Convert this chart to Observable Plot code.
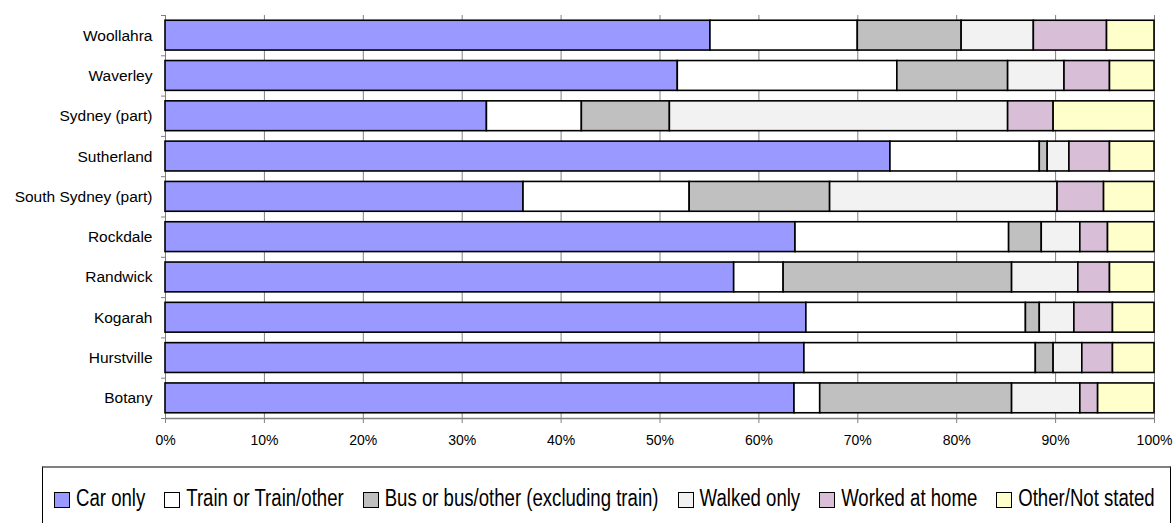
<!DOCTYPE html>
<html><head><meta charset="utf-8">
<script src="https://cdn.jsdelivr.net/npm/d3@7"></script>
<script src="https://cdn.jsdelivr.net/npm/@observablehq/plot@0.6"></script>
<style>
html,body{margin:0;padding:0;background:#fff}
body{width:1174px;height:523px;overflow:hidden;position:relative;font-family:"Liberation Sans",Arial,sans-serif}
#chart{position:absolute;left:0;top:0}
#legend{position:absolute;left:42px;top:466px;width:1129px;height:90px;border:1px solid #000;border-top:2px solid #808080;box-sizing:border-box;
  display:flex;align-items:flex-start;padding:19px 0 0 11px;gap:19px;font-family:"Liberation Sans",Arial,sans-serif;font-size:18.6px;line-height:22px;color:#000;white-space:nowrap}
#legend .item{display:flex;align-items:center;gap:6px}
#legend .sw{width:16px;height:16px;border:1.5px solid #000;box-sizing:border-box;margin-top:4px}
#legend .txt{display:inline-block;transform:scaleY(1.3);transform-origin:50% 50%}
</style>
</head><body>
<div id="chart"></div>
<div id="legend"></div>
<script>
const categories = ["Woollahra","Waverley","Sydney (part)","Sutherland","South Sydney (part)","Rockdale","Randwick","Kogarah","Hurstville","Botany"];
const modes = ["Car only","Train or Train/other","Bus or bus/other (excluding train)","Walked only","Worked at home","Other/Not stated"];
const colors = ["#9999FF","#FFFFFF","#C0C0C0","#F2F2F2","#D8BED6","#FFFFCC"];
const carOnly = [55.1,51.8,32.5,73.3,36.2,63.7,57.5,64.8,64.6,63.6];
const train   = [14.9,22.2, 9.6,15.1,16.8,21.6, 5.0,22.2,23.4, 2.6];
const bus     = [10.5,11.2, 8.9, 0.8,14.2, 3.3,23.1, 1.4, 1.8,19.4];
const walked  = [ 7.3, 5.7,34.2, 2.2,23.0, 3.9, 6.7, 3.5, 2.9, 6.9];
const home    = [ 7.4, 4.6, 4.6, 4.1, 4.7, 2.8, 3.2, 3.9, 3.1, 1.8];
const other   = [ 4.8, 4.5,10.2, 4.5, 5.1, 4.7, 4.5, 4.2, 4.2, 5.7];
const xTicks = [0,10,20,30,40,50,60,70,80,90,100];

const series = [carOnly, train, bus, walked, home, other];
const rows = [];
categories.forEach((cat, i) => {
  const vals = series.map(s => s[i]);
  const ends = Array.from(d3.cumsum(vals));
  modes.forEach((m, k) => {
    rows.push({i, cat, mode: m, x1: k ? ends[k-1] : 0, x2: ends[k]});
  });
});

const half = 0.37;
const chart = Plot.plot({
  width: 1174,
  height: 465,
  marginLeft: 165,
  marginRight: 20,
  marginTop: 15,
  marginBottom: 47,
  style: {fontFamily: '"Liberation Sans", Arial, sans-serif', fontSize: "14px", background: "white", color: "#000"},
  x: {domain: [0, 100]},
  y: {domain: [-0.5, categories.length - 0.5], reverse: true},
  color: {domain: modes, range: colors},
  marks: [
    Plot.ruleX(xTicks, {stroke: "#808080", strokeWidth: 1}),
    Plot.rectX(rows, {x1: "x1", x2: "x2", y1: d => d.i - half, y2: d => d.i + half, fill: "mode", stroke: "#000", strokeWidth: 1.6}),
    Plot.ruleY([categories.length - 0.5], {stroke: "#808080", strokeWidth: 1.5}),
    Plot.axisX({ticks: xTicks, tickFormat: d => d + "%", tickSize: 5, tickPadding: 12, stroke: "#808080", fill: "#000", fontSize: 14, label: null}),
    Plot.axisY({ticks: d3.range(-0.5, categories.length, 1), tickFormat: () => "", tickSize: 4, stroke: "#808080", label: null}),
    Plot.axisY({ticks: d3.range(categories.length), tickFormat: i => categories[i], tickSize: 0, tickPadding: 13, fontSize: 15.5, fill: "#000", label: null})
  ]
});
document.getElementById("chart").appendChild(chart);

const legend = document.getElementById("legend");
modes.forEach((m, k) => {
  const item = document.createElement("div");
  item.className = "item";
  const sw = document.createElement("div");
  sw.className = "sw";
  sw.style.background = colors[k];
  const t = document.createElement("span");
  t.className = "txt";
  t.textContent = m;
  item.appendChild(sw); item.appendChild(t);
  legend.appendChild(item);
});
</script>
</body></html>
